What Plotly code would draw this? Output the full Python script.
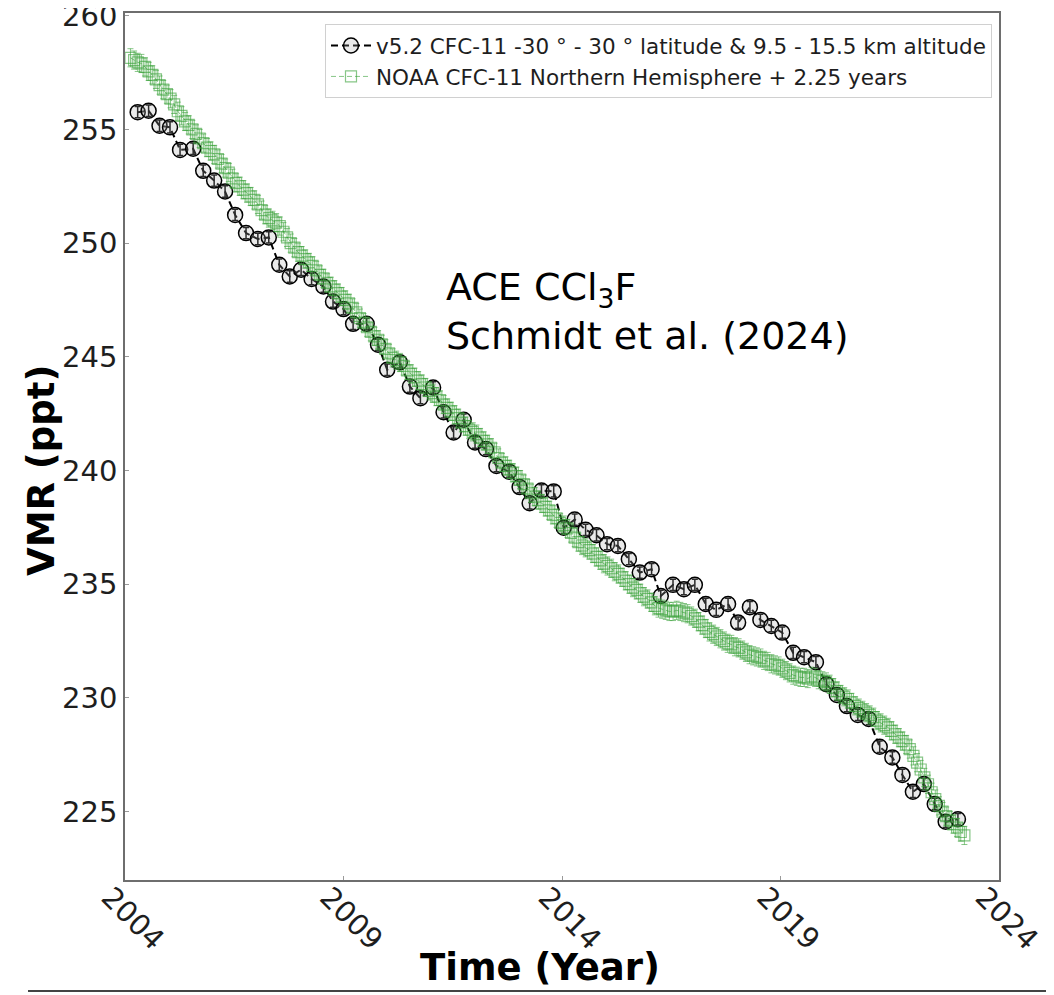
import plotly.graph_objects as go

# ---------------- data ----------------
# ACE v5.2 CFC-11 (black), decimal year and VMR (ppt)
ace_years = [2004.29, 2004.54, 2004.79, 2005.03, 2005.26, 2005.56, 2005.79, 2006.04,
             2006.29, 2006.52, 2006.77, 2007.04, 2007.29, 2007.53, 2007.77, 2008.03,
             2008.27, 2008.54, 2008.76, 2009.00, 2009.22, 2009.53, 2009.79, 2010.00,
             2010.29, 2010.52, 2010.76, 2011.05, 2011.29, 2011.52, 2011.75, 2012.01,
             2012.26, 2012.50, 2012.79, 2013.03, 2013.26, 2013.53, 2013.81, 2014.04,
             2014.29, 2014.54, 2014.79, 2015.03, 2015.28, 2015.53, 2015.78, 2016.05,
             2016.26, 2016.54, 2016.79, 2017.04, 2017.29, 2017.53, 2017.80, 2018.03,
             2018.30, 2018.54, 2018.79, 2019.04, 2019.29, 2019.54, 2019.81, 2020.05,
             2020.29, 2020.52, 2020.77, 2021.02, 2021.27, 2021.56, 2021.79, 2022.03,
             2022.28, 2022.53, 2022.78, 2023.06]
ace_vmr = [255.76, 255.82, 255.16, 255.09, 254.10, 254.15, 253.18, 252.75,
           252.27, 251.24, 250.44, 250.18, 250.25, 249.05, 248.53, 248.83,
           248.42, 248.09, 247.43, 247.10, 246.45, 246.45, 245.53, 244.43,
           244.76, 243.69, 243.18, 243.65, 242.56, 241.67, 242.23, 241.23,
           240.94, 240.20, 239.95, 239.27, 238.56, 239.12, 239.08, 237.48,
           237.84, 237.39, 237.15, 236.76, 236.68, 236.10, 235.51, 235.66,
           234.48, 234.97, 234.78, 234.97, 234.13, 233.87, 234.13, 233.31,
           233.99, 233.43, 233.16, 232.87, 231.98, 231.79, 231.57, 230.60,
           230.13, 229.64, 229.25, 229.07, 227.85, 227.38, 226.61, 225.87,
           226.21, 225.33, 224.55, 224.66]
ace_err = [0.25] * len(ace_vmr)

# NOAA CFC-11 NH monthly (shifted + 2.25 years), first month Feb 2004
noaa_start = 2004.125
noaa_vmr = [
    # 2004 (Feb-Dec)
    258.15, 258.05, 257.95, 257.90, 257.75, 257.55, 257.40, 257.20, 256.95, 256.75, 256.55,
    # 2005
    256.35, 256.10, 255.80, 255.60, 255.35, 255.20, 255.00, 254.80, 254.60, 254.40, 254.20, 254.05,
    # 2006
    253.90, 253.70, 253.50, 253.30, 253.10, 252.85, 252.65, 252.50, 252.35, 252.20, 252.05, 251.90,
    # 2007
    251.70, 251.45, 251.25, 251.10, 251.00, 250.90, 250.75, 250.50, 250.25, 250.00, 249.80, 249.60,
    # 2008
    249.45, 249.30, 249.15, 249.00, 248.80, 248.60, 248.45, 248.25, 248.10, 247.95, 247.80, 247.65,
    # 2009
    247.50, 247.35, 247.15, 246.95, 246.70, 246.50, 246.30, 246.10, 245.90, 245.75, 245.55, 245.35,
    # 2010
    245.15, 244.95, 244.85, 244.75, 244.60, 244.40, 244.25, 244.10, 243.95, 243.80, 243.65, 243.50,
    # 2011
    243.40, 243.25, 243.10, 242.90, 242.75, 242.60, 242.45, 242.30, 242.10, 241.95, 241.80, 241.70,
    # 2012
    241.60, 241.45, 241.30, 241.15, 241.00, 240.80, 240.55, 240.35, 240.20, 240.05, 239.90, 239.75,
    # 2013
    239.60, 239.40, 239.20, 239.00, 238.85, 238.70, 238.55, 238.40, 238.25, 238.05, 237.90, 237.70,
    # 2014
    237.60, 237.45, 237.25, 237.05, 236.85, 236.70, 236.60, 236.50, 236.35, 236.20, 236.05, 235.90,
    # 2015
    235.80, 235.70, 235.55, 235.45, 235.30, 235.15, 235.00, 234.85, 234.75, 234.60, 234.45, 234.35,
    # 2016
    234.20, 234.05, 233.95, 233.90, 233.85, 233.80, 233.80, 233.85, 233.80, 233.75, 233.70, 233.60,
    # 2017
    233.50, 233.35, 233.20, 233.05, 232.90, 232.80, 232.70, 232.60, 232.50, 232.40, 232.35, 232.25,
    # 2018
    232.20, 232.10, 232.00, 231.90, 231.85, 231.80, 231.75, 231.65, 231.60, 231.50, 231.45, 231.40,
    # 2019
    231.30, 231.20, 231.10, 231.00, 230.95, 230.90, 230.90, 230.85, 230.95, 230.90, 230.80, 230.75,
    # 2020
    230.70, 230.60, 230.45, 230.30, 230.15, 230.05, 229.95, 229.80, 229.65, 229.55, 229.45, 229.35,
    # 2021
    229.25, 229.15, 229.00, 228.90, 228.80, 228.70, 228.55, 228.40, 228.25, 228.10, 227.95, 227.75,
    # 2022
    227.45, 227.15, 226.85, 226.50, 226.20, 225.85, 225.55, 225.25, 225.00, 224.80, 224.60, 224.45,
    # 2023 (Jan-Mar)
    224.30, 224.10, 223.95,
]
noaa_years = [noaa_start + k / 12 for k in range(len(noaa_vmr))]
noaa_err = [0.4] * len(noaa_vmr)

x_ticks = [2004, 2009, 2014, 2019, 2024]
y_ticks = [225, 230, 235, 240, 245, 250, 255, 260]

ace_name = "v5.2 CFC-11 -30 ° - 30 ° latitude & 9.5 - 15.5 km altitude"
noaa_name = "NOAA CFC-11 Northern Hemisphere + 2.25 years"

# ---------------- figure ----------------
fig = go.Figure()

fig.add_trace(go.Scatter(
    x=ace_years, y=ace_vmr, name=ace_name, mode="lines+markers",
    line=dict(color="black", width=2, dash="7px,4px"),
    marker=dict(symbol="circle", size=15, color="rgba(170,170,170,0.25)",
                line=dict(color="black", width=1.5)),
    error_y=dict(type="data", array=ace_err, visible=True, color="black",
                 thickness=1.5, width=3),
))

green = "rgba(55,160,55,0.6)"
fig.add_trace(go.Scatter(
    x=noaa_years, y=noaa_vmr, name=noaa_name, mode="lines+markers",
    line=dict(color=green, width=1, dash="5px,3px"),
    marker=dict(symbol="square-open", size=11, color=green, line=dict(width=1.2)),
    error_y=dict(type="data", array=noaa_err, visible=True, color=green,
                 thickness=1, width=3),
))

# page is shown with an 8 px body margin, so the figure is laid out in page pixels
OFF = 8
PL, PR, PT, PB = 125, 999, 13, 880        # plot frame in page pixels
W, H = 1054 - OFF, 995 - OFF
L, T = PL - OFF, PT - OFF
R, B = W - (PR - OFF), H - (PB - OFF)
pw, ph = PR - PL, PB - PT


def px(xp):
    return (xp - PL) / pw


def py(yp):
    return (PB - yp) / ph


axis_common = dict(showline=True, mirror=True, linecolor="#6e6e6e", linewidth=1.5,
                   ticks="inside", ticklen=4, tickcolor="#9a9a9a",
                   showgrid=False, zeroline=False, automargin=False,
                   tickfont=dict(family="DejaVu Sans", size=29, color="#1e1e1e"))

fig.update_layout(
    width=W, height=H,
    margin=dict(l=L, r=R, t=T, b=B, autoexpand=False),
    paper_bgcolor="white", plot_bgcolor="white",
    showlegend=True,
    legend=dict(x=px(992), xanchor="right", y=py(24), yanchor="top",
                bgcolor="white", bordercolor="#d0d0d0", borderwidth=1,
                font=dict(family="DejaVu Sans", size=21.5, color="#1e1e1e"),
                itemwidth=40),
    xaxis=dict(range=[2004, 2024], tickvals=x_ticks,
               ticktext=[str(v) for v in x_ticks], tickangle=45,
               ticklabelshift=-15, ticklabelstandoff=-13, **axis_common),
    yaxis=dict(range=[221.99, 260.12], tickvals=y_ticks,
               ticktext=[str(v) for v in y_ticks], ticklabeloverflow="allow",
               **axis_common),
)

fig.add_annotation(text="Time (Year)", xref="paper", yref="paper",
                   x=px(540), y=py(968), xanchor="center", yanchor="middle",
                   showarrow=False,
                   font=dict(family="DejaVu Sans", size=37, color="black", weight="bold"))
fig.add_annotation(text="VMR (ppt)", xref="paper", yref="paper",
                   x=px(42), y=py(471), xanchor="center", yanchor="middle",
                   textangle=-90, showarrow=False,
                   font=dict(family="DejaVu Sans", size=37, color="black", weight="bold"))
fig.add_annotation(text="ACE CCl<sub>3</sub>F<br>Schmidt et al. (2024)",
                   xref="paper", yref="paper", x=px(444), y=py(311),
                   xanchor="left", yanchor="middle", align="left", showarrow=False,
                   font=dict(family="DejaVu Sans", size=38, color="black"))

fig.add_shape(type="line", xref="paper", yref="paper",
              x0=px(28), x1=px(1060), y0=py(991), y1=py(991),
              line=dict(color="#444444", width=2))

fig.write_html("out.html")
